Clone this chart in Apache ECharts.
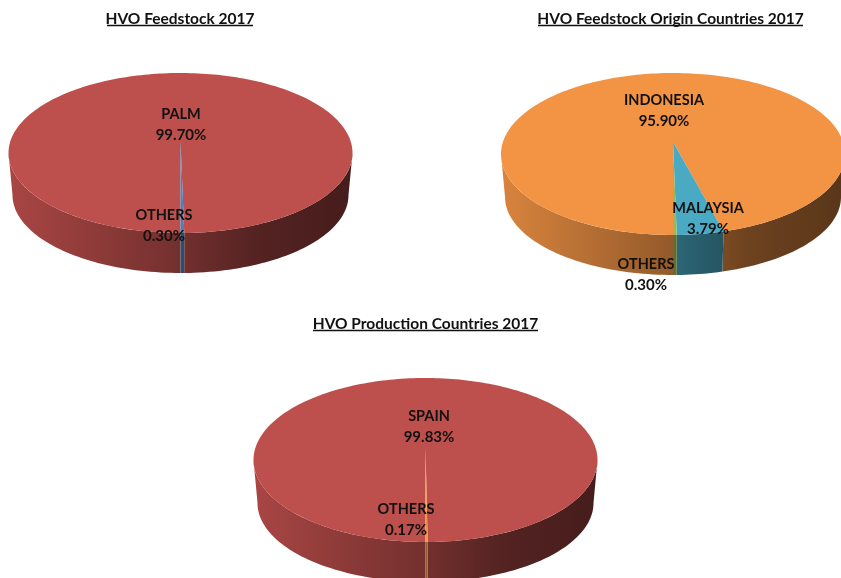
<!DOCTYPE html>
<html>
<head>
<meta charset="utf-8">
<title>HVO 2017</title>
<style>
  html, body { margin: 0; padding: 0; background: #fff; }
  #main { width: 841px; height: 578px; }
</style>
<script src="https://cdn.jsdelivr.net/npm/echarts@6/dist/echarts.min.js"></script>
</head>
<body>
<div id="main"></div>
<script>
'use strict';
// values
var feedstockNames = ['PALM', 'OTHERS'];
var feedstockShares = [99.70, 0.30];
var originNames = ['INDONESIA', 'MALAYSIA', 'OTHERS'];
var originShares = [95.90, 3.79, 0.30];
var productionNames = ['SPAIN', 'OTHERS'];
var productionShares = [99.83, 0.17];

var FONT = 'Lato, "Open Sans", sans-serif';
var RED = [192, 80, 77];
var BLUE = [79, 129, 189];
var ORANGE = [247, 150, 70];
var TEAL = [75, 172, 198];
var GREEN = [155, 187, 89];

// how far the apex sits behind the ellipse centre (perspective of the 3D pie)
var TILT = -0.15;
var WALL_FROM = 98.63;  // angle where top ellipse is widest, clockwise from 12 o'clock
var WALL_TO = 261.37;
var START_ANGLE = 180;  // every pie starts at 6 o'clock

var pies = [
  {
    title: 'HVO Feedstock 2017', titleX: 180, titleTop: 11, lineY: 25.5, lineX: [107, 253],
    names: feedstockNames, shares: feedstockShares, colors: [RED, BLUE],
    cx: 180.5, cy: 153, rx: 172, ry: 80, bottomCy: 195, bottomRx: 168, bottomRy: 78,
    labels: [[181, 125], [164, 226]]
  },
  {
    title: 'HVO Feedstock Origin Countries 2017', titleX: 670.5, titleTop: 11, lineY: 25.5, lineX: [538, 803],
    names: originNames, shares: originShares, colors: [ORANGE, TEAL, GREEN],
    cx: 673, cy: 154, rx: 172, ry: 81, bottomCy: 197, bottomRx: 168, bottomRy: 78,
    labels: [[664, 111], [708, 219], [646, 275]]
  },
  {
    title: 'HVO Production Countries 2017', titleX: 425.5, titleTop: 316, lineY: 330.5, lineX: [313, 538],
    names: productionNames, shares: productionShares, colors: [RED, ORANGE],
    cx: 425.5, cy: 460, rx: 172, ry: 82, bottomCy: 503, bottomRx: 168, bottomRy: 79,
    labels: [[429, 427], [406, 520]]
  }
];

// unit circle point -> point on the tilted ellipse
function project(deg, cx, cy, rx, ry) {
  var t = deg * Math.PI / 180;
  var u = Math.sin(t);
  var v = -Math.cos(t);
  var d = 1 + TILT * v;
  return [
    cx + rx * u * Math.sqrt(1 - TILT * TILT) / d,
    cy + ry * (v + TILT) / d
  ];
}

function arcAngles(from, to) {
  var list = [];
  var n = Math.max(1, Math.ceil((to - from) / 1.5));
  for (var i = 0; i <= n; i++) {
    list.push(from + (to - from) * i / n);
  }
  return list;
}

function shade(c, f) {
  return 'rgb(' + Math.round(c[0] * f) + ',' + Math.round(c[1] * f) + ',' + Math.round(c[2] * f) + ')';
}

function wallFill(pie, color) {
  return new echarts.graphic.LinearGradient(pie.cx - pie.rx, 0, pie.cx + pie.rx, 0, [
    { offset: 0, color: shade(color, 0.88) },
    { offset: 0.5, color: shade(color, 0.6) },
    { offset: 0.72, color: shade(color, 0.44) },
    { offset: 1, color: shade(color, 0.36) }
  ], true);
}

function renderSlice(pie, params, api) {
  var i = params.dataIndex;
  var before = 0;
  for (var k = 0; k < i; k++) before += pie.shares[k];
  var total = 0;
  pie.shares.forEach(function (s) { total += s; });
  var from = START_ANGLE + before / total * 360;
  var to = from + api.value(0) / total * 360;
  var color = pie.colors[i];
  var children = [];

  // side wall: only the part of the slice that faces the viewer
  [-360, 0, 360].forEach(function (shift) {
    var a = Math.max(from, WALL_FROM + shift);
    var b = Math.min(to, WALL_TO + shift);
    if (a >= b) return;
    var angles = arcAngles(a, b);
    var pts = angles.map(function (d) { return project(d, pie.cx, pie.cy, pie.rx, pie.ry); });
    angles.slice().reverse().forEach(function (d) {
      pts.push(project(d, pie.cx, pie.bottomCy, pie.bottomRx, pie.bottomRy));
    });
    children.push({
      type: 'polygon',
      shape: { points: pts },
      style: { fill: wallFill(pie, color), stroke: null }
    });
  });

  // top face
  var top = [[pie.cx, pie.cy + pie.ry * TILT]];
  arcAngles(from, to).forEach(function (d) {
    top.push(project(d, pie.cx, pie.cy, pie.rx, pie.ry));
  });
  children.push({
    type: 'polygon',
    z2: 2,
    shape: { points: top },
    style: { fill: shade(color, 0.985), stroke: null }
  });

  children.push({
    type: 'text',
    z2: 10,
    x: pie.labels[i][0],
    y: pie.labels[i][1],
    style: {
      text: '{n|' + pie.names[i] + '}\n{v|' + api.value(0).toFixed(2) + '%}',
      rich: {
        n: { font: 'bold 14.5px ' + FONT, fill: '#111', lineHeight: 21 },
        v: { font: 'bold 15px ' + FONT, fill: '#111', lineHeight: 21 }
      },
      align: 'center',
      verticalAlign: 'middle'
    }
  });
  return { type: 'group', children: children };
}

var myChart = echarts.init(document.getElementById('main'), null, { renderer: 'canvas' });

var option = {
  backgroundColor: '#fff',
  animation: false,
  title: pies.map(function (pie) {
    return {
      text: pie.title,
      left: pie.titleX,
      top: pie.titleTop,
      padding: 0,
      textAlign: 'center',
      textStyle: { fontFamily: FONT, fontWeight: 'bold', fontSize: 15.5, color: '#111' }
    };
  }),
  // the title component has no underline of its own
  graphic: pies.map(function (pie) {
    return {
      type: 'line',
      silent: true,
      shape: { x1: pie.lineX[0], y1: pie.lineY, x2: pie.lineX[1], y2: pie.lineY },
      style: { stroke: '#111', lineWidth: 1.5 }
    };
  }),
  series: pies.map(function (pie) {
    return {
      type: 'custom',
      coordinateSystem: 'none',
      silent: true,
      clip: false,
      data: pie.shares,
      renderItem: function (params, api) {
        return renderSlice(pie, params, api);
      }
    };
  })
};

myChart.setOption(option);
</script>
</body>
</html>
